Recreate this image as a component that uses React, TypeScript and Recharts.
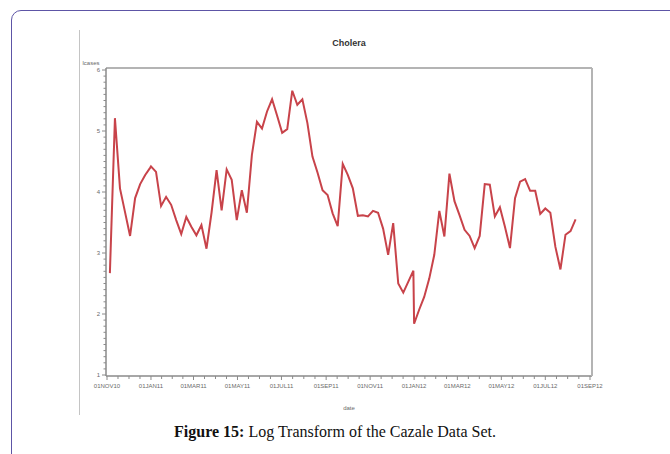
import { LineChart, Line, XAxis, YAxis } from 'recharts';

// weekly log case counts, weeks dated from Jan 1 of each year (SAS style)
const firstWeek2010 = 44; // 05NOV10
const values2010 = [2.67, 5.21, 4.06, 3.67, 3.28, 3.9, 4.13, 4.28, 4.4];
const values2011 = [
    4.42, 4.33, 3.77, 3.92, 3.79, 3.54, 3.31, 3.59, 3.43, 3.29,
    3.46, 3.07, 3.66, 4.36, 3.7, 4.37, 4.2, 3.54, 4.03, 3.66,
    4.61, 5.15, 5.04, 5.32, 5.52, 5.25, 4.97, 5.03, 5.66, 5.43,
    5.52, 5.13, 4.58, 4.32, 4.03, 3.95, 3.65, 3.44, 4.46, 4.28,
    4.06, 3.61, 3.62, 3.6, 3.69, 3.66, 3.4, 2.97, 3.49, 2.5,
    2.35, 2.53, 2.71,
];
const values2012 = [
    1.84, 2.07, 2.28, 2.58, 2.97, 3.69, 3.27, 4.3, 3.85, 3.62,
    3.38, 3.28, 3.08, 3.28, 4.13, 4.12, 3.6, 3.75, 3.43, 3.08,
    3.9, 4.17, 4.21, 4.02, 4.02, 3.64, 3.73, 3.66, 3.1, 2.73,
    3.3, 3.36, 3.55,
];

const xTickLabels = [
    '01NOV10', '01JAN11', '01MAR11', '01MAY11', '01JUL11', '01SEP11',
    '01NOV11', '01JAN12', '01MAR12', '01MAY12', '01JUL12', '01SEP12',
];
const yMajorTicks = [1, 2, 3, 4, 5, 6];

const MONTHS = ['JAN', 'FEB', 'MAR', 'APR', 'MAY', 'JUN', 'JUL', 'AUG', 'SEP', 'OCT', 'NOV', 'DEC'];
const DAY = 86400000;
const base = Date.UTC(2010, 10, 1);

const sasDay = (s: string) => {
    const d = Date.UTC(2000 + Number(s.slice(5, 7)), MONTHS.indexOf(s.slice(2, 5)), Number(s.slice(0, 2)));
    return Math.round((d - base) / DAY);
};

const weekDay = (year: number, k: number) => Math.round((Date.UTC(year, 0, 1 + 7 * k) - base) / DAY);

const chartData = [
    ...values2010.map((v, i) => ({ x: weekDay(2010, firstWeek2010 + i), v })),
    ...values2011.map((v, i) => ({ x: weekDay(2011, i), v })),
    ...values2012.map((v, i) => ({ x: weekDay(2012, i), v })),
];

// major ticks with 3 minor ticks between each pair
const majorDays = xTickLabels.map(sasDay);
const labelByDay = new Map(majorDays.map((d, i) => [d, xTickLabels[i]]));
const xTicks: number[] = [];
majorDays.forEach((d, i) => {
    xTicks.push(d);
    const next = majorDays[i + 1];
    if (next !== undefined) {
        for (let j = 1; j < 4; j++) xTicks.push(d + ((next - d) * j) / 4);
    }
});
const yTicks: number[] = [];
for (let i = 10; i <= 60; i++) yTicks.push(i / 10);

const FONT = '"Liberation Sans", Arial, sans-serif';
const AXIS = '#8a8a8a';
const FRAME = '#b4b4b4';

const XTick = ({ x, y, payload }: any) => {
    const label = labelByDay.get(payload.value);
    return (
        <g>
            <line x1={x} y1={y} x2={x} y2={y + (label ? 4 : 3)} stroke={AXIS} strokeWidth={1} />
            {label && (
                <text x={x} y={y + 12} textAnchor="middle" fontSize={6} fill="#6a6a6a" fontFamily={FONT}>
                    {label}
                </text>
            )}
        </g>
    );
};

const YTick = ({ x, y, payload }: any) => {
    const major = yMajorTicks.includes(payload.value);
    return (
        <g>
            <line x1={x} y1={y} x2={x - (major ? 4 : 2.5)} y2={y} stroke={AXIS} strokeWidth={1} />
            {major && (
                <text x={x - 6} y={y + 2} textAnchor="end" fontSize={6} fill="#6a6a6a" fontFamily={FONT}>
                    {payload.value}
                </text>
            )}
        </g>
    );
};

export default function App() {
    return (
        <div style={{ position: 'absolute', left: 0, top: 0, width: 670, height: 454, overflow: 'hidden', background: '#fff' }}>
            <div
                style={{
                    position: 'absolute',
                    left: 11,
                    top: 10,
                    width: 720,
                    height: 520,
                    border: '1.5px solid #5d55a6',
                    borderRadius: 10,
                }}
            />
            <div style={{ position: 'absolute', left: 79, top: 30, width: 1, height: 385, background: '#c4c4c4' }} />
            <div
                style={{
                    position: 'absolute',
                    left: 106,
                    width: 486,
                    top: 38,
                    textAlign: 'center',
                    fontFamily: FONT,
                    fontWeight: 'bold',
                    fontSize: 9,
                    color: '#333',
                }}
            >
                Cholera
            </div>
            <div style={{ position: 'absolute', left: 0, top: 0 }}>
                <LineChart width={670} height={454} data={chartData} margin={{ top: 67, right: 77, bottom: 44, left: 76 }}>
                    <XAxis
                        dataKey="x"
                        type="number"
                        domain={[0, 670]}
                        ticks={xTicks}
                        interval={0}
                        padding={{ left: 1, right: 2 }}
                        height={34}
                        tickSize={0}
                        tickMargin={0}
                        tickLine={false}
                        tick={<XTick />}
                        axisLine={{ stroke: AXIS, strokeWidth: 1.5 }}
                        label={{ value: 'date', position: 'insideBottom', offset: 0, fontSize: 6, fill: '#6a6a6a', fontFamily: FONT }}
                    />
                    <XAxis
                        xAxisId="frame"
                        orientation="top"
                        dataKey="x"
                        type="number"
                        domain={[0, 670]}
                        height={1}
                        tick={false}
                        tickLine={false}
                        axisLine={{ stroke: FRAME, strokeWidth: 2 }}
                    />
                    <YAxis
                        type="number"
                        domain={[1, 6]}
                        ticks={yTicks}
                        interval={0}
                        padding={{ top: 2, bottom: 1 }}
                        width={30}
                        tickSize={0}
                        tickMargin={0}
                        tickLine={false}
                        tick={<YTick />}
                        axisLine={{ stroke: AXIS, strokeWidth: 1.5 }}
                        label={{ value: 'lcases', position: 'top', offset: 3, fontSize: 6, fill: '#6a6a6a', fontFamily: FONT }}
                    />
                    <YAxis
                        yAxisId="frame"
                        orientation="right"
                        type="number"
                        domain={[1, 6]}
                        width={1}
                        tick={false}
                        tickLine={false}
                        axisLine={{ stroke: FRAME, strokeWidth: 2 }}
                    />
                    <Line
                        type="linear"
                        dataKey="v"
                        stroke="#c8434a"
                        strokeWidth={2}
                        dot={false}
                        isAnimationActive={false}
                    />
                    <Line
                        xAxisId="frame"
                        yAxisId="frame"
                        dataKey="v"
                        stroke="none"
                        dot={false}
                        legendType="none"
                        isAnimationActive={false}
                    />
                </LineChart>
            </div>
            <div
                style={{
                    position: 'absolute',
                    left: 0,
                    width: 670,
                    top: 423,
                    textAlign: 'center',
                    fontFamily: '"Liberation Serif", "Times New Roman", serif',
                    fontSize: 16,
                    color: '#111',
                }}
            >
                <b>Figure 15:</b> Log Transform of the Cazale Data Set.
            </div>
        </div>
    );
}
